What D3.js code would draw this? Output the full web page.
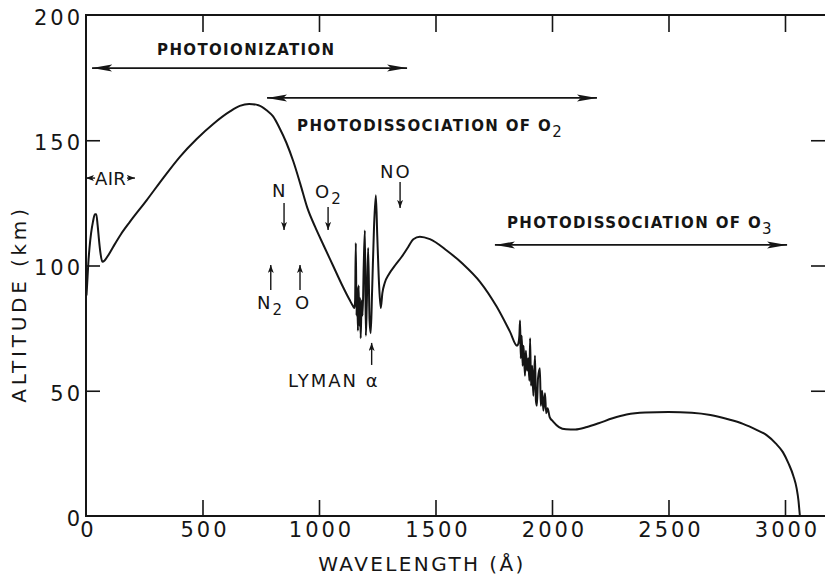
<!DOCTYPE html>
<html>
<head>
<meta charset="utf-8">
<script src="https://cdn.jsdelivr.net/npm/d3@7"></script>
<style>
  html, body { margin: 0; padding: 0; background: #fff; }
  svg { display: block; }
</style>
</head>
<body>
<svg id="chart" width="825" height="577"></svg>
<script>
// ---------------- data ----------------
const wavelength = [2, 4, 7, 10, 15, 22, 30, 38, 44, 50, 56, 62, 70, 80, 95, 117, 150, 189, 260, 332, 403, 475, 546, 618, 660, 700, 740, 775, 803, 830, 860, 890, 920, 950, 983, 1020, 1060, 1100, 1130, 1148, 1152, 1155, 1158, 1161, 1164, 1167, 1170, 1173, 1176, 1179, 1183, 1187, 1192, 1197, 1201, 1205, 1211, 1217, 1222, 1228, 1236, 1244, 1250, 1258, 1265, 1272, 1282, 1300, 1326, 1355, 1380, 1405, 1433, 1476, 1548, 1619, 1691, 1763, 1820, 1850, 1856, 1860, 1863, 1866, 1870, 1874, 1878, 1884, 1888, 1893, 1898, 1903, 1906, 1910, 1915, 1920, 1927, 1931, 1935, 1940, 1948, 1952, 1958, 1963, 1970, 1975, 1981, 1990, 2004, 2030, 2060, 2100, 2150, 2200, 2260, 2320, 2400, 2500, 2600, 2680, 2760, 2820, 2880, 2921, 2960, 2991, 3015, 3036, 3050, 3058, 3062, 3064];
const altitude = [88, 91, 96, 101, 107, 113, 117.5, 120.5, 120.5, 116, 110, 105, 101.5, 102, 104, 107.5, 112.5, 117.5, 126, 135, 143.4, 150.5, 156.5, 161.5, 163.7, 164.5, 164, 162, 159.5, 155, 149, 141.5, 132.5, 123, 115.5, 108, 100, 92, 86.5, 83.5, 83, 86, 109, 80, 91, 74, 92, 76, 87, 71, 86, 80, 100, 114, 72, 84, 107, 78, 73, 90, 115, 128, 112, 92, 83, 89, 93, 96.5, 100, 103.5, 107, 110.5, 111.5, 110.5, 106, 100.5, 93.5, 83.5, 73.5, 68, 69, 72, 78, 63, 72, 60, 68, 56, 66, 58, 63, 54, 71, 52, 60, 48, 64, 46, 44, 55, 59, 44, 50, 42, 49, 41, 43, 39.5, 37.8, 35.5, 34.6, 34.5, 35.5, 37, 39, 40.5, 41.3, 41.5, 41.2, 40.3, 38.5, 36.8, 34.3, 32.3, 29, 25.5, 21, 16, 11, 6, 2, 0];

const xTicks = [0, 500, 1000, 1500, 2000, 2500, 3000];
const yTicks = [0, 50, 100, 150, 200];
const xDomain = [0, 3176];
const yDomain = [0, 200];

// double-headed range arrows [x1, x2, altitude]
const rangeArrowX1 = [26, 777, 1755];
const rangeArrowX2 = [1378, 2193, 3009];
const rangeArrowY  = [178.8, 166.9, 108.2];

// range labels
const rangeLabelText = ["PHOTOIONIZATION", "PHOTODISSOCIATION OF O", "PHOTODISSOCIATION OF O"];
const rangeLabelSub  = ["", "2", "3"];
const rangeLabelX    = [305, 906, 1807];
const rangeLabelY    = [186.4, 156, 117.2];

// species labels
const speciesText = ["N", "O", "NO", "N", "O", "LYMAN α"];
const speciesSub  = ["", "2", "", "2", "", ""];
const speciesX    = [798, 983, 1262, 734, 897, 867];
const speciesY    = [130.1, 129.7, 137.7, 85.6, 85.6, 54.3];

// small pointer arrows: tail -> tip
const pointerX     = [850, 1039, 1348, 793, 918.5, 1226];
const pointerTail  = [125, 123.4, 133.3, 90.2, 90.2, 60.3];
const pointerTip   = [114.2, 114.2, 123, 100.2, 100.2, 69.1];

// AIR band
const airText = "AIR";
const airX = 39, airY = 134.9;
const airArrowTails = [39, 176];
const airArrowTips  = [0, 210];

// ---------------- drawing ----------------
const ink = "#151515";
const svg = d3.select("#chart");
const x = d3.scaleLinear().domain(xDomain).range([86, 826]);
const y = d3.scaleLinear().domain(yDomain).range([516, 15]);

const defs = svg.append("defs");
defs.append("marker").attr("id", "bigHead")
  .attr("viewBox", "0 0 20 8").attr("refX", 20).attr("refY", 4)
  .attr("markerWidth", 20).attr("markerHeight", 8)
  .attr("markerUnits", "userSpaceOnUse").attr("orient", "auto-start-reverse")
  .append("path").attr("d", "M0,0.5 L20,4 L0,7.5 L4,4 Z").attr("fill", ink);
defs.append("marker").attr("id", "smallHead")
  .attr("viewBox", "0 0 8 6").attr("refX", 8).attr("refY", 3)
  .attr("markerWidth", 8).attr("markerHeight", 6)
  .attr("markerUnits", "userSpaceOnUse").attr("orient", "auto")
  .append("path").attr("d", "M0,0 L8,3 L0,6 L2,3 Z").attr("fill", ink);

const fontFam = "'DejaVu Sans', 'Liberation Sans', sans-serif";

// frame
const frame = svg.append("g").attr("stroke", ink).attr("stroke-width", 2).attr("fill", "none");
frame.append("line").attr("x1", x(0)).attr("x2", x(0)).attr("y1", y(0) + 1).attr("y2", y(200) - 1);
frame.append("line").attr("x1", x(0) - 1).attr("x2", x(xDomain[1])).attr("y1", y(0)).attr("y2", y(0));
frame.append("line").attr("x1", x(0) - 1).attr("x2", x(xDomain[1])).attr("y1", y(200)).attr("y2", y(200));
frame.append("line").attr("x1", x(xDomain[1])).attr("x2", x(xDomain[1])).attr("y1", y(0)).attr("y2", y(200));

function styleAxis(g) {
  g.select(".domain").remove();
  g.selectAll(".tick line").attr("stroke", ink).attr("stroke-width", 1.6);
  g.selectAll(".tick text").attr("fill", ink).attr("font-family", fontFam)
    .attr("font-size", 21).attr("letter-spacing", 3);
}

// bottom axis with inward ticks
svg.append("g").attr("transform", `translate(0,${y(0)})`)
  .call(d3.axisBottom(x).tickValues(xTicks).tickFormat(d3.format("d")).tickSizeInner(-16).tickSizeOuter(0).tickPadding(5))
  .call(styleAxis)
  .call(g => g.selectAll(".tick").filter(d => d === 0).select("line").remove())
  .call(g => g.selectAll(".tick text").attr("dx", "2").attr("dy", "0.78em"));

// top axis
svg.append("g").attr("transform", `translate(0,${y(200)})`)
  .call(d3.axisTop(x).tickValues(xTicks.filter(d => d > 0)).tickFormat("").tickSizeInner(-17).tickSizeOuter(0))
  .call(styleAxis);

// left axis
svg.append("g").attr("transform", `translate(${x(0)},0)`)
  .call(d3.axisLeft(y).tickValues(yTicks).tickFormat(d3.format("d")).tickSizeInner(-14).tickSizeOuter(0).tickPadding(3))
  .call(styleAxis)
  .call(g => g.selectAll(".tick").filter(d => d === 0 || d === 200).select("line").remove())
  .call(g => g.selectAll(".tick text").attr("dy", "0.45em"));

// right axis
svg.append("g").attr("transform", `translate(${x(xDomain[1])},0)`)
  .call(d3.axisRight(y).tickValues(yTicks.filter(d => d > 0 && d < 200)).tickFormat("").tickSizeInner(-15).tickSizeOuter(0))
  .call(styleAxis);

// axis titles
svg.append("text").attr("x", 422).attr("y", 571).attr("text-anchor", "middle")
  .attr("font-family", fontFam).attr("font-size", 20).attr("letter-spacing", 2.4)
  .attr("fill", ink).text("WAVELENGTH (Å)");
svg.append("text").attr("transform", "translate(26,304) rotate(-90)").attr("text-anchor", "middle")
  .attr("font-family", fontFam).attr("font-size", 20).attr("letter-spacing", 3.8)
  .attr("fill", ink).text("ALTITUDE (km)");

// curve
const pts = wavelength.map((w, i) => [w, altitude[i]]);
svg.append("path").datum(pts)
  .attr("fill", "none").attr("stroke", ink).attr("stroke-width", 2).attr("stroke-linejoin", "round")
  .attr("d", d3.line().x(d => x(d[0])).y(d => y(d[1])).curve(d3.curveMonotoneX));

// range arrows
rangeArrowX1.forEach((x1, i) => {
  svg.append("line").attr("x1", x(x1)).attr("x2", x(rangeArrowX2[i]))
    .attr("y1", y(rangeArrowY[i])).attr("y2", y(rangeArrowY[i]))
    .attr("stroke", ink).attr("stroke-width", 1.8)
    .attr("marker-start", "url(#bigHead)").attr("marker-end", "url(#bigHead)");
});

// range labels
rangeLabelText.forEach((t, i) => {
  const tx = svg.append("text").attr("x", x(rangeLabelX[i])).attr("y", y(rangeLabelY[i]) + 6)
    .attr("font-family", fontFam).attr("font-size", 15).attr("font-weight", "bold")
    .attr("letter-spacing", 1.35).attr("fill", ink);
  tx.append("tspan").text(t);
  if (rangeLabelSub[i]) tx.append("tspan").attr("dy", 6).attr("font-size", 15).attr("font-weight", "normal").text(rangeLabelSub[i]);
});

// species labels
speciesText.forEach((t, i) => {
  const tx = svg.append("text").attr("x", x(speciesX[i])).attr("y", y(speciesY[i]) + 7)
    .attr("font-family", fontFam).attr("font-size", 18).attr("letter-spacing", 2)
    .attr("fill", ink);
  tx.append("tspan").text(t);
  if (speciesSub[i]) tx.append("tspan").attr("dy", 6).attr("font-size", 15).text(speciesSub[i]);
});

// pointer arrows
pointerX.forEach((px, i) => {
  svg.append("line").attr("x1", x(px)).attr("x2", x(px))
    .attr("y1", y(pointerTail[i])).attr("y2", y(pointerTip[i]))
    .attr("stroke", ink).attr("stroke-width", 1.4).attr("marker-end", "url(#smallHead)");
});

// AIR
svg.append("text").attr("x", x(airX)).attr("y", y(airY) + 7)
  .attr("font-family", fontFam).attr("font-size", 18).attr("letter-spacing", 0.3)
  .attr("fill", ink).text(airText);
airArrowTails.forEach((t, i) => {
  svg.append("line").attr("x1", x(t)).attr("x2", x(airArrowTips[i]))
    .attr("y1", y(airY)).attr("y2", y(airY))
    .attr("stroke", ink).attr("stroke-width", 1.4).attr("marker-end", "url(#smallHead)");
});
</script>
</body>
</html>
